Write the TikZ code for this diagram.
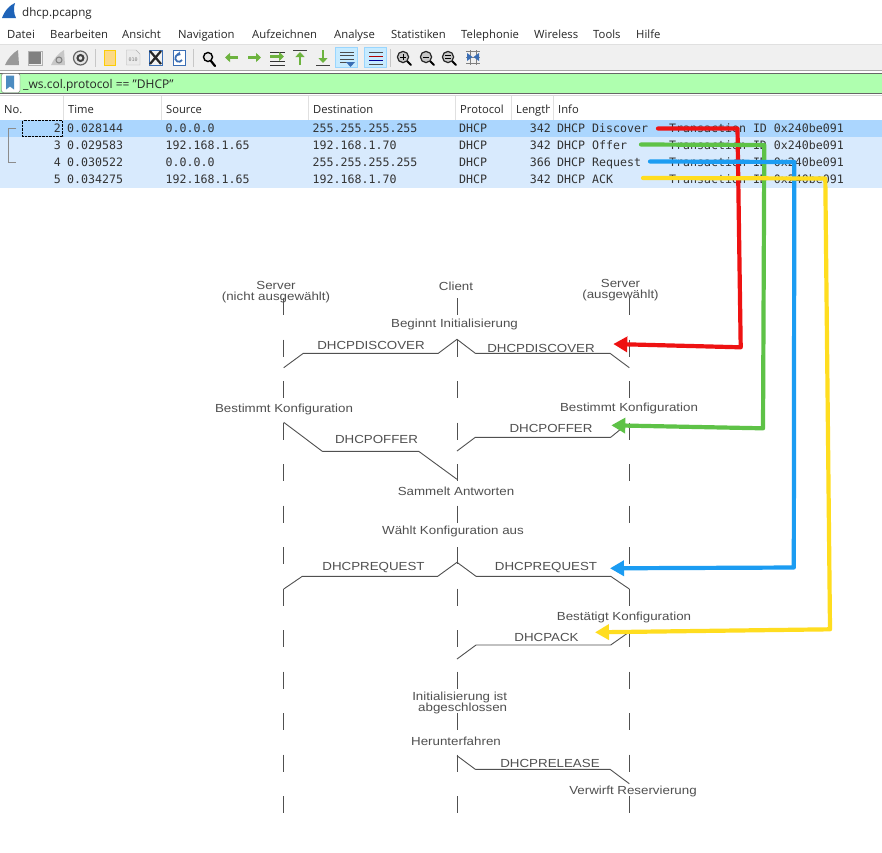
\documentclass[tikz,border=0pt]{standalone}
\usepackage{fontspec}
\usetikzlibrary{arrows.meta}
\setmainfont{Open Sans}
\newfontfamily\zeilenfont{DejaVu Sans Mono}
\newfontfamily\ablauffont[FakeStretch=1.14]{Liberation Sans}

\definecolor{zeileAktiv}{HTML}{ABD6FE}
\definecolor{zeile}{HTML}{D8EAFD}
\definecolor{filterGruen}{HTML}{AFFFAF}
\definecolor{leiste}{HTML}{F0F0F0}
\definecolor{ablaufGrau}{HTML}{505050}
\definecolor{pfeilRot}{HTML}{EE1212}
\definecolor{pfeilGruen}{HTML}{5EC247}
\definecolor{pfeilBlau}{HTML}{1B9CF2}
\definecolor{pfeilGelb}{HTML}{FFDD1F}
\definecolor{iconGruen}{HTML}{6DB33F}
\definecolor{iconBlau}{HTML}{3A6EB5}
\definecolor{finBlau}{HTML}{1E63B8}

\tikzset{
  menu/.style={anchor=base west, inner sep=0pt, font=\fontsize{11.3}{13}\selectfont, text=black!85},
  kopf/.style={anchor=base west, inner sep=0pt, font=\fontsize{11.2}{13}\selectfont, text=black!85},
  zelle/.style={anchor=base west, inner sep=0pt, font=\zeilenfont\fontsize{11.6}{13}\selectfont, text=black!80},
  zelleR/.style={zelle, anchor=base east},
  lifeline/.style={ablaufGrau, line width=0.9pt, dash pattern=on 17pt off 24.5pt},
  msg/.style={ablaufGrau, line width=0.9pt, line join=bevel},
  schrift/.style={inner sep=0pt, font=\ablauffont\fontsize{11.7}{10.5}\selectfont, text=ablaufGrau},
  pfeil/.style={line width=4.2pt, line join=round, line cap=round, -{Triangle[length=14pt,width=15pt]}},
}

% Lupe fuer die Zoom-Symbole
\newcommand{\lupe}[2]{
  \draw[line width=2pt, black, line cap=round] (#1+3.5,#2+3.5) -- (#1+8,#2+8);
  \draw[fill=black!22, draw=black!85, line width=1.2pt] (#1,#2) circle (5.6);
}

\begin{document}
\begin{tikzpicture}[x=1pt,y=-1pt]
  \useasboundingbox (0,0) rectangle (882,852);
  \fill[white] (0,0) rectangle (882,852);

  % Titel und Menue
  \fill[finBlau] (2,18) .. controls (5,10) and (10,5) .. (15,3) .. controls (13,8) and (14,14) .. (16,18) -- cycle;
  \node[menu, font=\fontsize{11.6}{13}\selectfont] (titel) at (22,16) {dhcp.pcapng};
  \node[menu] (datei) at (7,38) {Datei};
  \node[menu] (bearbeiten) at (50,38) {Bearbeiten};
  \node[menu] (ansicht) at (122,38) {Ansicht};
  \node[menu] (navigation) at (178,38) {Navigation};
  \node[menu] (aufzeichnen) at (252,38) {Aufzeichnen};
  \node[menu] (analyse) at (334,38) {Analyse};
  \node[menu] (statistiken) at (391,38) {Statistiken};
  \node[menu] (telephonie) at (461,38) {Telephonie};
  \node[menu] (wireless) at (534,38) {Wireless};
  \node[menu] (tools) at (593,38) {Tools};
  \node[menu] (hilfe) at (636,38) {Hilfe};

  % Werkzeugleiste
  \fill[leiste] (0,45) rectangle (882,70);
  \draw[black!12] (0,44.5) -- (882,44.5);
  \draw[black!35] (0,70.5) -- (882,70.5);
  \begin{scope}
    \fill[black!40] (5,65) .. controls (8,58) and (13,53) .. (18,50) -- (19,65) -- cycle;
    \fill[black!50] (29,52) rectangle (41,64);
    \draw[black!30] (28,51) rectangle (42,65);
    \fill[black!22] (51,65) .. controls (54,58) and (59,53) .. (64,50) -- (65,65) -- cycle;
    \draw[black!50, line width=1pt] (59,60) circle (3);
    \draw[black!60, line width=1.2pt, fill=black!10] (80.5,58) circle (7);
    \draw[black!75, line width=2pt] (80.5,58) circle (3);
    \foreach \sx in {95,193,390}
      \draw[black!22] (\sx,49) -- (\sx,67);
    \draw[draw=yellow!65!orange, fill=yellow!40!orange!45] (104.5,50) -- (115.5,50) -- (115.5,65) -- (104.5,65) -- cycle;
    \draw[black!30, fill=black!8] (126.5,50) -- (136,50) -- (140,54) -- (140,65) -- (126.5,65) -- cycle;
    \node[inner sep=0pt, font=\zeilenfont\fontsize{5}{5}\selectfont, text=black!50] (nullzehn) at (133.2,60) {010};
    \draw[iconBlau, fill=black!5] (149,50) rectangle (162,65);
    \draw[black!85, line width=2.2pt] (150,51) -- (161,64) (161,51) -- (150,64);
    \draw[iconBlau, fill=white] (173,50) rectangle (185,65);
    \draw[iconBlau, line width=1.8pt, -{Triangle[length=3pt,width=5pt]}] (182,60) arc (30:300:3.6);
    \draw[line width=2.2pt, line cap=round] (211,61) -- (215,66);
    \draw[fill=black!10, line width=1.4pt] (208,57) circle (4.5);
    % Pfeile zur Navigation
    \draw[iconGruen, line width=3pt, -{Triangle[length=5pt,width=9pt]}] (238,57.5) -- (225,57.5);
    \draw[iconGruen, line width=3pt, -{Triangle[length=5pt,width=9pt]}] (248,57.5) -- (261,57.5);
    \foreach \ly in {52,61,65}
      \draw[black!80] (270,\ly) -- (285,\ly);
    \draw[iconGruen, line width=3pt, -{Triangle[length=5pt,width=9pt]}] (270,56.5) -- (284,56.5);
    \draw[black!75] (293,50.5) -- (307,50.5);
    \draw[iconGruen, line width=2.6pt, -{Triangle[length=5pt,width=9pt]}] (300,65) -- (300,52);
    \draw[black!75] (316,65.5) -- (330,65.5);
    \draw[iconGruen, line width=2.6pt, -{Triangle[length=5pt,width=9pt]}] (323,50) -- (323,63);
    \draw[draw=blue!40!cyan!40, fill=blue!35!cyan!22] (335.5,47.5) rectangle (357.5,67.5);
    \foreach \ly in {52,55.5,59,62.5}
      \draw[black!70] (340,\ly) -- (354,\ly);
    \fill[iconBlau] (346,62) -- (355,62) -- (350.5,67) -- cycle;
    \draw[draw=blue!40!cyan!40, fill=blue!35!cyan!22] (364.5,47.5) rectangle (386.5,67.5);
    \draw[black!70] (369,52) -- (383,52);
    \draw[red!70!black] (369,56) -- (383,56);
    \draw[blue!60!black] (369,60) -- (383,60);
    \draw[black!70] (369,64) -- (383,64);
    \lupe{403}{57}
    \draw[black, line width=0.9pt] (400,57) -- (406,57) (403,54) -- (403,60);
    \lupe{426}{57}
    \draw[black, line width=0.9pt] (423,57) -- (429,57);
    \lupe{448}{57}
    \draw[black, line width=0.9pt] (445,55.8) -- (451,55.8) (445,58.2) -- (451,58.2);
    \draw[black!50] (466,51) -- (480,51) (466,57) -- (480,57) (466,63) -- (480,63) (470,50) -- (470,65) (476,50) -- (476,65);
    \fill[iconBlau] (467,53) -- (472.5,57) -- (467,61) -- cycle;
    \fill[iconBlau] (479,53) -- (473.5,57) -- (479,61) -- cycle;
  \end{scope}

  % Filterzeile
  \fill[filterGruen] (0,73) rectangle (882,93);
  \draw[black!60, line width=0.9pt] (0,73) -- (882,73) (0,93) -- (882,93);
  \draw[black!60, fill=white, rounded corners=2pt] (1.5,73.5) rectangle (20,92.5);
  \fill[blue!45!cyan!65!black!70] (6,75.5) -- (14,75.5) -- (14,89.5) -- (10,86.5) -- (6,89.5) -- cycle;
  \node[menu, font=\fontsize{12}{13}\selectfont] (filter) at (23,88) {\_ws.col.protocol == \char34 DHCP\char34};
  \draw[black!15] (0,95) -- (882,95);

  % Tabellenkopf
  \foreach \sx in {63,161,308,455,511,553}
    \draw[black!12] (\sx,96) -- (\sx,120);
  \node[kopf] (kopfNo) at (4,113) {No.};
  \node[kopf] (kopfTime) at (68,113) {Time};
  \node[kopf] (kopfSource) at (166,113) {Source};
  \node[kopf] (kopfDest) at (313,113) {Destination};
  \node[kopf] (kopfProt) at (460,113) {Protocol};
  \begin{scope}
    \clip (512,96) rectangle (549.5,120);
    \node[kopf] (kopfLen) at (516,113) {Length};
  \end{scope}
  \node[kopf] (kopfInfo) at (558,113) {Info};

  % Zeilen
  \fill[zeileAktiv] (0,120) rectangle (882,137);
  \fill[zeile] (0,137) rectangle (882,188);
  \draw[black, densely dotted] (22.5,120.5) rectangle (62.5,136.5);
  \draw[black!45, line width=0.9pt] (16,128.5) -- (8,128.5) -- (8,162.5) -- (16,162.5);

  \foreach \zn/\nr/\zeit/\quelle/\ziel/\lang/\info [count=\zi] in {
      zwei/2/0.028144/0.0.0.0/255.255.255.255/342/DHCP Discover,
      drei/3/0.029583/192.168.1.65/192.168.1.70/342/DHCP Offer,
      vier/4/0.030522/0.0.0.0/255.255.255.255/366/DHCP Request,
      fuenf/5/0.034275/192.168.1.65/192.168.1.70/342/DHCP ACK} {
    \pgfmathsetmacro{\zy}{132.4+17*(\zi-1)}
    \node[zelleR] (nr\zn) at (61,\zy) {\nr};
    \node[zelle] (zeit\zn) at (67,\zy) {\zeit};
    \node[zelle] (quelle\zn) at (165.5,\zy) {\quelle};
    \node[zelle] (ziel\zn) at (312.5,\zy) {\ziel};
    \node[zelle] (prot\zn) at (459,\zy) {DHCP};
    \node[zelleR] (lang\zn) at (551,\zy) {\lang};
    \node[zelle] (info\zn) at (557,\zy) {\info};
    \node[zelle] (trans\zn) at (669,\zy) {Transaction ID 0x240be091};
  }

  % Ablauf
  \foreach \ln/\lx in {links/283.7,mitte/457,rechts/629.3} {
    \coordinate (\ln Oben) at (\lx,298);
    \coordinate (\ln Unten) at (\lx,813);
    \draw[lifeline] (\ln Oben) -- (\ln Unten);
  }

  \coordinate (discL) at (283.7,367.7);
  \coordinate (discC) at (457,339.3);
  \coordinate (discR) at (629.3,367.7);
  \coordinate (offerL) at (283.7,422.3);
  \coordinate (offerC) at (457,479.3);
  \coordinate (offerD) at (457,451);
  \coordinate (offerR) at (627,424);
  \coordinate (reqL) at (283.7,589);
  \coordinate (reqC) at (457,562.3);
  \coordinate (reqR) at (629.3,589);
  \coordinate (ackC) at (457,659);
  \coordinate (ackR) at (627.3,633.3);
  \coordinate (relC) at (457,755.7);
  \coordinate (relR) at (629.3,783.7);

  \draw[msg] (discL) -- ++(19.6,-14.4) -- ++(135,0) -- (discC);
  \draw[msg] (discC) -- ++(18.3,14) -- ++(134.7,0) -- (discR);
  \draw[msg] (offerL) -- ++(38.6,29) -- ++(96.4,0) -- (offerC);
  \draw[msg] (offerD) -- ++(18.3,-13.7) -- ++(135.4,0) -- (offerR);
  \draw[msg] (reqL) -- ++(18.6,-12.7) -- ++(135.4,0) -- (reqC);
  \draw[msg] (reqC) -- ++(19,14) -- ++(134.7,0) -- (reqR);
  \draw[msg] (ackC) -- ++(19,-14) -- ++(134.7,0) -- (ackR);
  \draw[msg] (relC) -- ++(18.3,13.6) -- ++(134.7,0) -- (relR);

  \node[schrift, align=center] (srvA) at (276,292) {Server\\(nicht ausgewählt)};
  \node[schrift] (client) at (456,286.5) {Client};
  \node[schrift, align=center] (srvB) at (620.5,290) {Server\\(ausgewählt)};
  \node[schrift] (beginnt) at (454.5,324) {Beginnt Initialisierung};
  \node[schrift] (discLinks) at (371,345) {DHCPDISCOVER};
  \node[schrift] (discRechts) at (541,348) {DHCPDISCOVER};
  \node[schrift] (bestA) at (284,409) {Bestimmt Konfiguration};
  \node[schrift] (bestB) at (629,408) {Bestimmt Konfiguration};
  \node[schrift] (offerLinks) at (376.5,439) {DHCPOFFER};
  \node[schrift] (offerRechts) at (551,428) {DHCPOFFER};
  \node[schrift] (sammelt) at (456,491) {Sammelt Antworten};
  \node[schrift] (waehlt) at (453,531) {Wählt Konfiguration aus};
  \node[schrift] (reqLinks) at (373.5,568) {DHCPREQUEST};
  \node[schrift] (reqRechts) at (546,568) {DHCPREQUEST};
  \node[schrift] (bestaetigt) at (624,617.5) {Bestätigt Konfiguration};
  \node[schrift] (ack) at (546.5,637) {DHCPACK};
  \node[schrift, align=right] (fertig) at (459.7,703) {Initialisierung ist\\abgeschlossen};
  \node[schrift] (herunter) at (456,741.5) {Herunterfahren};
  \node[schrift] (release) at (550,763.5) {DHCPRELEASE};
  \node[schrift] (verwirft) at (633,791) {Verwirft Reservierung};

  % farbige Pfeile von den Zeilen zum Ablauf
  \coordinate (rotStart) at (658,128.5);
  \coordinate (rotTop) at (737.5,128.5);
  \coordinate (rotKnick) at (740.7,347.3);
  \coordinate (rotZiel) at (613.3,344);
  \coordinate (gruenStart) at (641,144.5);
  \coordinate (gruenTop) at (764.3,145);
  \coordinate (gruenKnick) at (763,428.3);
  \coordinate (gruenZiel) at (611.3,425.3);
  \coordinate (blauStart) at (650,161.5);
  \coordinate (blauTop) at (794.3,162);
  \coordinate (blauKnick) at (793.8,567.5);
  \coordinate (blauZiel) at (610,568.3);
  \coordinate (gelbStart) at (643,178);
  \coordinate (gelbTop) at (825.3,178.5);
  \coordinate (gelbKnick) at (830,629.3);
  \coordinate (gelbZiel) at (595,632.3);

  \draw[pfeil, pfeilRot] (rotStart) -- (rotTop) -- (rotKnick) -- (rotZiel);
  \draw[pfeil, pfeilGruen] (gruenStart) -- (gruenTop) -- (gruenKnick) -- (gruenZiel);
  \draw[pfeil, pfeilBlau] (blauStart) -- (blauTop) -- (blauKnick) -- (blauZiel);
  \draw[pfeil, pfeilGelb] (gelbStart) -- (gelbTop) -- (gelbKnick) -- (gelbZiel);
\end{tikzpicture}
\end{document}
